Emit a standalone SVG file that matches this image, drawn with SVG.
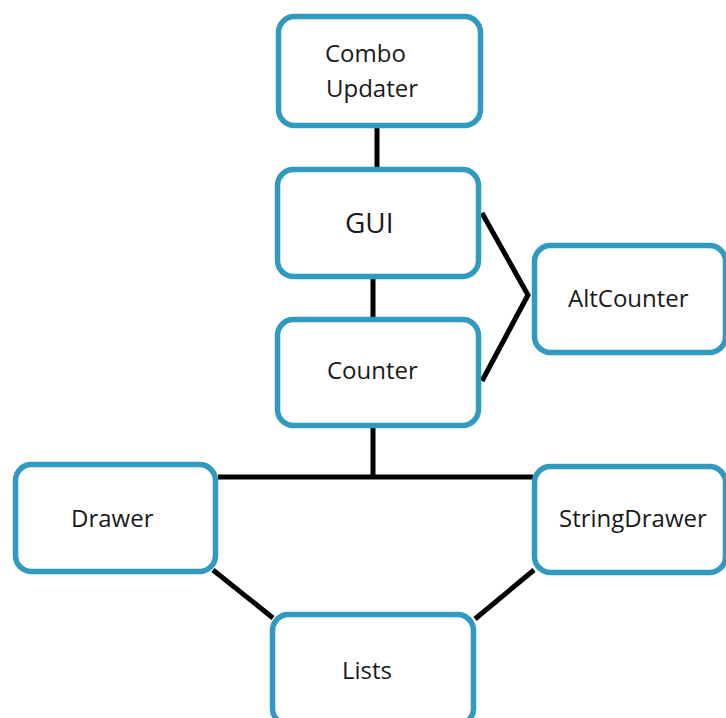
<svg xmlns="http://www.w3.org/2000/svg" width="726" height="718" viewBox="0 0 726 718">
<style>
.box{fill:#ffffff;stroke:#319ABF;stroke-width:5.5}
.lbl{font-family:"Open Sans","Noto Sans",sans-serif;font-size:24px;fill:#1a1a1a}
.big{font-size:28px}
.edge{stroke:#000000;stroke-width:5;fill:none;stroke-linejoin:miter}
</style>
<rect width="726" height="718" fill="#ffffff"/>
<g id="connectors">
<line class="edge" x1="377" y1="128" x2="377" y2="167"/>
<line class="edge" x1="373" y1="279" x2="373" y2="317"/>
<line class="edge" x1="373" y1="428" x2="373" y2="477"/>
<line class="edge" x1="218" y1="477" x2="533" y2="477"/>
<polyline class="edge" points="482,213 528,295 482,381"/>
<line class="edge" x1="213" y1="570" x2="273" y2="618"/>
<line class="edge" x1="475" y1="619" x2="534" y2="570"/>
</g>
<g id="combo-updater">
<rect class="box" x="278.5" y="16.5" width="202" height="109" rx="16"/>
<text class="lbl" x="325" y="62">Combo</text>
<text class="lbl" x="326" y="97">Updater</text>
</g>
<g id="gui">
<rect class="box" x="277.5" y="169.5" width="201" height="107" rx="16"/>
<text class="lbl big" x="345" y="233">GUI</text>
</g>
<g id="counter">
<rect class="box" x="277.5" y="319.5" width="201" height="106" rx="16"/>
<text class="lbl" x="327" y="379">Counter</text>
</g>
<g id="altcounter">
<rect class="box" x="534.5" y="245.5" width="191" height="107" rx="16"/>
<text class="lbl" x="568" y="307">AltCounter</text>
</g>
<g id="drawer">
<rect class="box" x="15.5" y="464.5" width="200" height="107" rx="16"/>
<text class="lbl" x="71" y="527">Drawer</text>
</g>
<g id="stringdrawer">
<rect class="box" x="534.5" y="466.5" width="191" height="106" rx="16"/>
<text class="lbl" x="559" y="527">StringDrawer</text>
</g>
<g id="lists">
<rect class="box" x="272.5" y="614.5" width="201" height="110" rx="16"/>
<text class="lbl" x="342" y="679">Lists</text>
</g>
</svg>
